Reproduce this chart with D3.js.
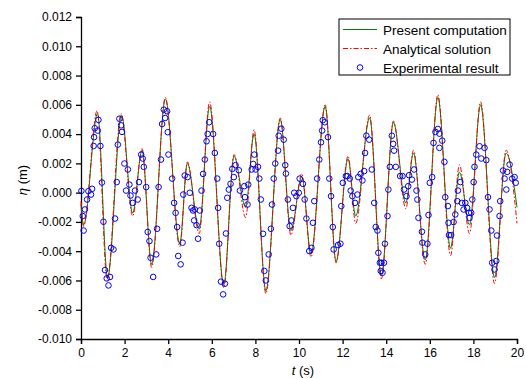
<!DOCTYPE html>
<html>
<head>
<meta charset="utf-8">
<script src="https://cdn.jsdelivr.net/npm/d3@7"></script>
<style>
  body { margin: 0; background: #fff; }
  text { font-family: "Liberation Sans", Arial, sans-serif; }
</style>
</head>
<body>
<div id="chart_container"></div>
<script>
// present computation (green) at its turning points
const compTime = [0, 0.12, 0.76, 1.22, 1.86, 2.37, 2.8, 3.24, 3.87, 4.53, 4.88, 5.42, 5.9, 6.55, 7.02, 7.55, 7.94, 8.48, 9.14, 9.63, 10.13, 10.55, 11.2, 11.7, 12.25, 12.6, 13.24, 13.78, 14.33, 14.9, 15.25, 15.79, 16.37, 16.95, 17.36, 17.82, 18.33, 18.97, 19.5, 20];
const compEta = [-0.0008, -0.0022, 0.0054, -0.0058, 0.0053, -0.0014, 0.0029, -0.0049, 0.0064, -0.0035, 0.0020, -0.0025, 0.0059, -0.0063, 0.0025, -0.0010, 0.0040, -0.0067, 0.0050, -0.0026, 0.0011, -0.0042, 0.0059, -0.0047, 0.0023, -0.0016, 0.0051, -0.0057, 0.0048, -0.0007, 0.0027, -0.0046, 0.0065, -0.0038, 0.0014, -0.0022, 0.0060, -0.0058, 0.0027, -0.0010];

// analytical solution (red dash-dot)
const anaTime = [0, 0.12, 0.74, 1.2, 1.84, 2.37, 2.8, 3.24, 3.87, 4.53, 4.88, 5.42, 5.9, 6.55, 7.02, 7.55, 7.94, 8.48, 9.14, 9.63, 10.13, 10.55, 11.2, 11.7, 12.25, 12.6, 13.24, 13.78, 14.33, 14.9, 15.25, 15.79, 16.37, 16.95, 17.36, 17.82, 18.33, 18.97, 19.5, 20];
const anaEta = [-0.0006, -0.0023, 0.0056, -0.0060, 0.0054, -0.0016, 0.0030, -0.0051, 0.0065, -0.0037, 0.0021, -0.0028, 0.0062, -0.0065, 0.0026, -0.0017, 0.0043, -0.0069, 0.0051, -0.0029, 0.0013, -0.0044, 0.0060, -0.0048, 0.0025, -0.0021, 0.0053, -0.0059, 0.0049, -0.0011, 0.0029, -0.0049, 0.0067, -0.0043, 0.0019, -0.0028, 0.0062, -0.0062, 0.0029, -0.0021];

// experimental result (blue circles)
const expTime = [0.02, 0.08, 0.12, 0.18, 0.28, 0.34, 0.46, 0.51, 0.58, 0.60, 0.63, 0.77, 0.80, 0.89, 0.96, 1.03, 1.10, 1.18, 1.26, 1.33, 1.38, 1.49, 1.56, 1.64, 1.69, 1.76, 1.84, 1.88, 1.99, 2.07, 2.15, 2.22, 2.27, 2.37, 2.48, 2.60, 2.66, 2.76, 2.83, 2.88, 2.99, 3.06, 3.14, 3.19, 3.31, 3.45, 3.49, 3.56, 3.67, 3.72, 3.80, 3.86, 3.95, 3.98, 4.01, 4.18, 4.27, 4.34, 4.41, 4.46, 4.57, 4.66, 4.69, 4.76, 4.89, 4.99, 5.07, 5.14, 5.19, 5.22, 5.30, 5.37, 5.45, 5.53, 5.60, 5.68, 5.76, 5.81, 5.88, 6.06, 6.14, 6.25, 6.29, 6.34, 6.42, 6.52, 6.60, 6.65, 6.71, 6.78, 6.86, 6.94, 7.01, 7.09, 7.24, 7.29, 7.49, 7.52, 7.64, 7.67, 7.83, 7.90, 7.95, 8.01, 8.12, 8.18, 8.25, 8.35, 8.41, 8.48, 8.61, 8.71, 8.76, 8.84, 8.91, 9.04, 9.07, 9.19, 9.30, 9.37, 9.40, 9.49, 9.57, 9.65, 9.72, 9.78, 9.88, 9.99, 10.03, 10.18, 10.26, 10.34, 10.47, 10.57, 10.64, 10.70, 10.83, 10.93, 11.01, 11.06, 11.09, 11.18, 11.33, 11.39, 11.47, 11.55, 11.59, 11.79, 11.90, 11.94, 12.01, 12.15, 12.22, 12.33, 12.37, 12.45, 12.57, 12.68, 12.72, 12.83, 12.91, 12.99, 13.03, 13.09, 13.22, 13.34, 13.45, 13.52, 13.60, 13.64, 13.71, 13.75, 13.78, 13.83, 13.90, 13.94, 14.06, 14.10, 14.17, 14.26, 14.32, 14.36, 14.44, 14.64, 14.75, 14.82, 14.93, 15.01, 15.05, 15.18, 15.28, 15.39, 15.43, 15.48, 15.64, 15.66, 15.79, 15.89, 15.94, 16.00, 16.11, 16.17, 16.26, 16.37, 16.44, 16.44, 16.57, 16.67, 16.71, 16.83, 16.86, 16.88, 16.98, 17.09, 17.17, 17.26, 17.29, 17.40, 17.47, 17.55, 17.63, 17.71, 17.80, 17.82, 17.90, 17.95, 18.01, 18.05, 18.13, 18.28, 18.36, 18.51, 18.59, 18.67, 18.74, 18.82, 18.86, 18.97, 19.05, 19.08, 19.20, 19.23, 19.36, 19.43, 19.51, 19.55, 19.66, 19.78, 19.89, 19.94];
const expEta = [0.00012, -0.00160, -0.00259, -0.00115, -0.00047, 0.00010, -0.00013, 0.00026, 0.00319, 0.00379, 0.00440, 0.00424, 0.00497, 0.00319, 0.00069, -0.00199, -0.00529, -0.00586, -0.00634, -0.00576, -0.00377, -0.00388, -0.00177, 0.00072, 0.00328, 0.00505, 0.00460, 0.00415, 0.00199, 0.00014, 0.00158, 0.00055, -0.00020, -0.00070, 0.00014, -0.00047, 0.00072, 0.00260, 0.00233, 0.00176, 0.00038, -0.00269, -0.00331, -0.00445, -0.00576, -0.00422, -0.00247, 0.00038, 0.00226, 0.00469, 0.00567, 0.00510, 0.00556, 0.00413, 0.00260, 0.00096, -0.00070, -0.00138, -0.00235, -0.00433, -0.00490, -0.00342, -0.00013, 0.00117, 0.00106, -0.00001, -0.00104, -0.00122, -0.00190, -0.00115, -0.00222, -0.00315, -0.00122, 0.00014, 0.00128, 0.00226, 0.00351, 0.00401, 0.00481, 0.00401, 0.00271, 0.00096, -0.00104, -0.00349, -0.00608, -0.00695, -0.00622, -0.00279, -0.00035, 0.00021, 0.00060, 0.00162, 0.00106, 0.00188, 0.00153, 0.00014, 0.00044, -0.00031, -0.00081, 0.00055, 0.00158, 0.00196, 0.00260, 0.00158, 0.00176, 0.00096, -0.00047, -0.00281, -0.00535, -0.00600, -0.00422, -0.00247, -0.00081, 0.00096, 0.00199, 0.00287, 0.00389, 0.00437, 0.00362, 0.00188, 0.00130, -0.00047, -0.00229, -0.00190, -0.00104, -0.00001, -0.00024, -0.00001, 0.00096, 0.00060, -0.00047, -0.00177, -0.00399, -0.00377, -0.00206, -0.00058, 0.00096, 0.00226, 0.00344, 0.00424, 0.00495, 0.00481, 0.00379, 0.00096, -0.00024, -0.00235, -0.00388, -0.00358, -0.00349, -0.00092, 0.00067, 0.00113, 0.00113, 0.00096, 0.00014, -0.00024, -0.00070, -0.00013, 0.00106, 0.00128, 0.00083, 0.00147, 0.00271, 0.00389, 0.00362, 0.00158, -0.00070, -0.00235, -0.00259, -0.00411, -0.00479, -0.00535, -0.00479, -0.00547, -0.00479, -0.00349, -0.00160, 0.00021, 0.00176, 0.00389, 0.00333, 0.00287, 0.00176, 0.00113, 0.00113, 0.00021, -0.00024, 0.00044, 0.00119, 0.00089, 0.00158, 0.00014, -0.00047, -0.00172, -0.00267, -0.00342, -0.00422, -0.00349, -0.00153, 0.00067, 0.00106, 0.00340, 0.00415, 0.00435, 0.00403, 0.00306, 0.00355, 0.00210, -0.00031, -0.00092, -0.00206, -0.00290, -0.00290, -0.00201, -0.00149, -0.00058, 0.00014, 0.00072, -0.00070, -0.00115, -0.00070, -0.00104, -0.00138, -0.00172, -0.00138, -0.00047, 0.00072, 0.00176, 0.00260, 0.00317, 0.00233, 0.00306, 0.00222, -0.00031, -0.00115, -0.00259, -0.00479, -0.00525, -0.00467, -0.00293, -0.00160, -0.00058, 0.00151, 0.00096, 0.00021, 0.00142, 0.00192, 0.00096, 0.00106, 0.00067];

const xTicks = [0, 2, 4, 6, 8, 10, 12, 14, 16, 18, 20];
const yTicks = [-0.010, -0.008, -0.006, -0.004, -0.002, 0.000, 0.002, 0.004, 0.006, 0.008, 0.010, 0.012];
const legendNames = ["Present computation", "Analytical solution", "Experimental result"];

const margin = { top: 17, right: 9, bottom: 40, left: 81 },
    width = 526 - margin.left - margin.right,
    height = 379 - margin.top - margin.bottom;

const svg_root = d3.select("#chart_container")
    .append("svg")
    .attr("width", width + margin.left + margin.right)
    .attr("height", height + margin.top + margin.bottom);

const svg = svg_root.append("g")
    .attr("transform", `translate(${margin.left}, ${margin.top})`);

const x = d3.scaleLinear().domain([0, 20]).range([0, width]);
const y = d3.scaleLinear().domain([-0.010, 0.012]).range([height, 0]);

// axes
const xAxis = svg.append("g")
    .attr("transform", `translate(0, ${height})`)
    .call(d3.axisBottom(x).tickValues(xTicks).tickSize(5).tickPadding(4).tickFormat(d => d));
const yAxis = svg.append("g")
    .call(d3.axisLeft(y).tickValues(yTicks).tickSize(5).tickPadding(4).tickFormat(d => d.toFixed(3)));

[xAxis, yAxis].forEach(a => {
    a.select(".domain").attr("stroke", "#000").attr("stroke-width", 1.3);
    a.selectAll(".tick line").attr("stroke", "#000").attr("stroke-width", 1.3);
    a.selectAll("text").attr("fill", "#000").style("font-size", "12px")
        .style("font-family", "'Liberation Sans', Arial, sans-serif");
});

// axis titles
const xTitle = svg_root.append("text")
    .attr("x", margin.left + width / 2 + 4)
    .attr("y", 375)
    .attr("text-anchor", "middle")
    .style("font-size", "13px");
xTitle.append("tspan").style("font-style", "italic").text("t");
xTitle.append("tspan").text(" (s)");

const yTitle = svg_root.append("text")
    .attr("transform", `translate(27, ${margin.top + height / 2 + 2}) rotate(-90)`)
    .attr("text-anchor", "middle")
    .style("font-size", "13px");
yTitle.append("tspan").style("font-style", "italic").text("η");
yTitle.append("tspan").text(" (m)");

// lines
const line = d3.line()
    .x(d => x(d[0]))
    .y(d => y(d[1]))
    .curve(d3.curveMonotoneX);

svg.append("path")
    .datum(compTime.map((t, i) => [t, compEta[i]]))
    .attr("d", line)
    .attr("fill", "none")
    .attr("stroke", "#008000")
    .attr("stroke-width", 1);

svg.append("path")
    .datum(anaTime.map((t, i) => [t, anaEta[i]]))
    .attr("d", line)
    .attr("fill", "none")
    .attr("stroke", "#ff0000")
    .attr("stroke-width", 1)
    .attr("stroke-dasharray", "5,2,1.5,2");

svg.selectAll(".exp")
    .data(expTime.map((t, i) => [t, expEta[i]]))
    .enter()
    .append("circle")
    .classed("exp", true)
    .attr("cx", d => x(d[0]))
    .attr("cy", d => y(d[1]))
    .attr("r", 2.8)
    .attr("fill", "none")
    .attr("stroke", "#0000ff")
    .attr("stroke-width", 1);

// legend
const legend = svg_root.append("g").attr("transform", "translate(339, 19)");
legend.append("rect")
    .attr("width", 171)
    .attr("height", 56)
    .attr("fill", "#fff")
    .attr("stroke", "#000")
    .attr("stroke-width", 1);

legendNames.forEach((name, i) => {
    const cy = 10.5 + i * 19;
    if (i === 0) {
        legend.append("line").attr("x1", 4).attr("x2", 38).attr("y1", cy).attr("y2", cy)
            .attr("stroke", "#008000").attr("stroke-width", 1);
    } else if (i === 1) {
        legend.append("line").attr("x1", 4).attr("x2", 38).attr("y1", cy).attr("y2", cy)
            .attr("stroke", "#ff0000").attr("stroke-width", 1).attr("stroke-dasharray", "5,2,1.5,2");
    } else {
        legend.append("circle").attr("cx", 21).attr("cy", cy).attr("r", 2.8)
            .attr("fill", "none").attr("stroke", "#0000ff").attr("stroke-width", 1);
    }
    legend.append("text")
        .attr("x", 44)
        .attr("y", cy + 5)
        .style("font-size", "13.5px")
        .text(name);
});
</script>
</body>
</html>
